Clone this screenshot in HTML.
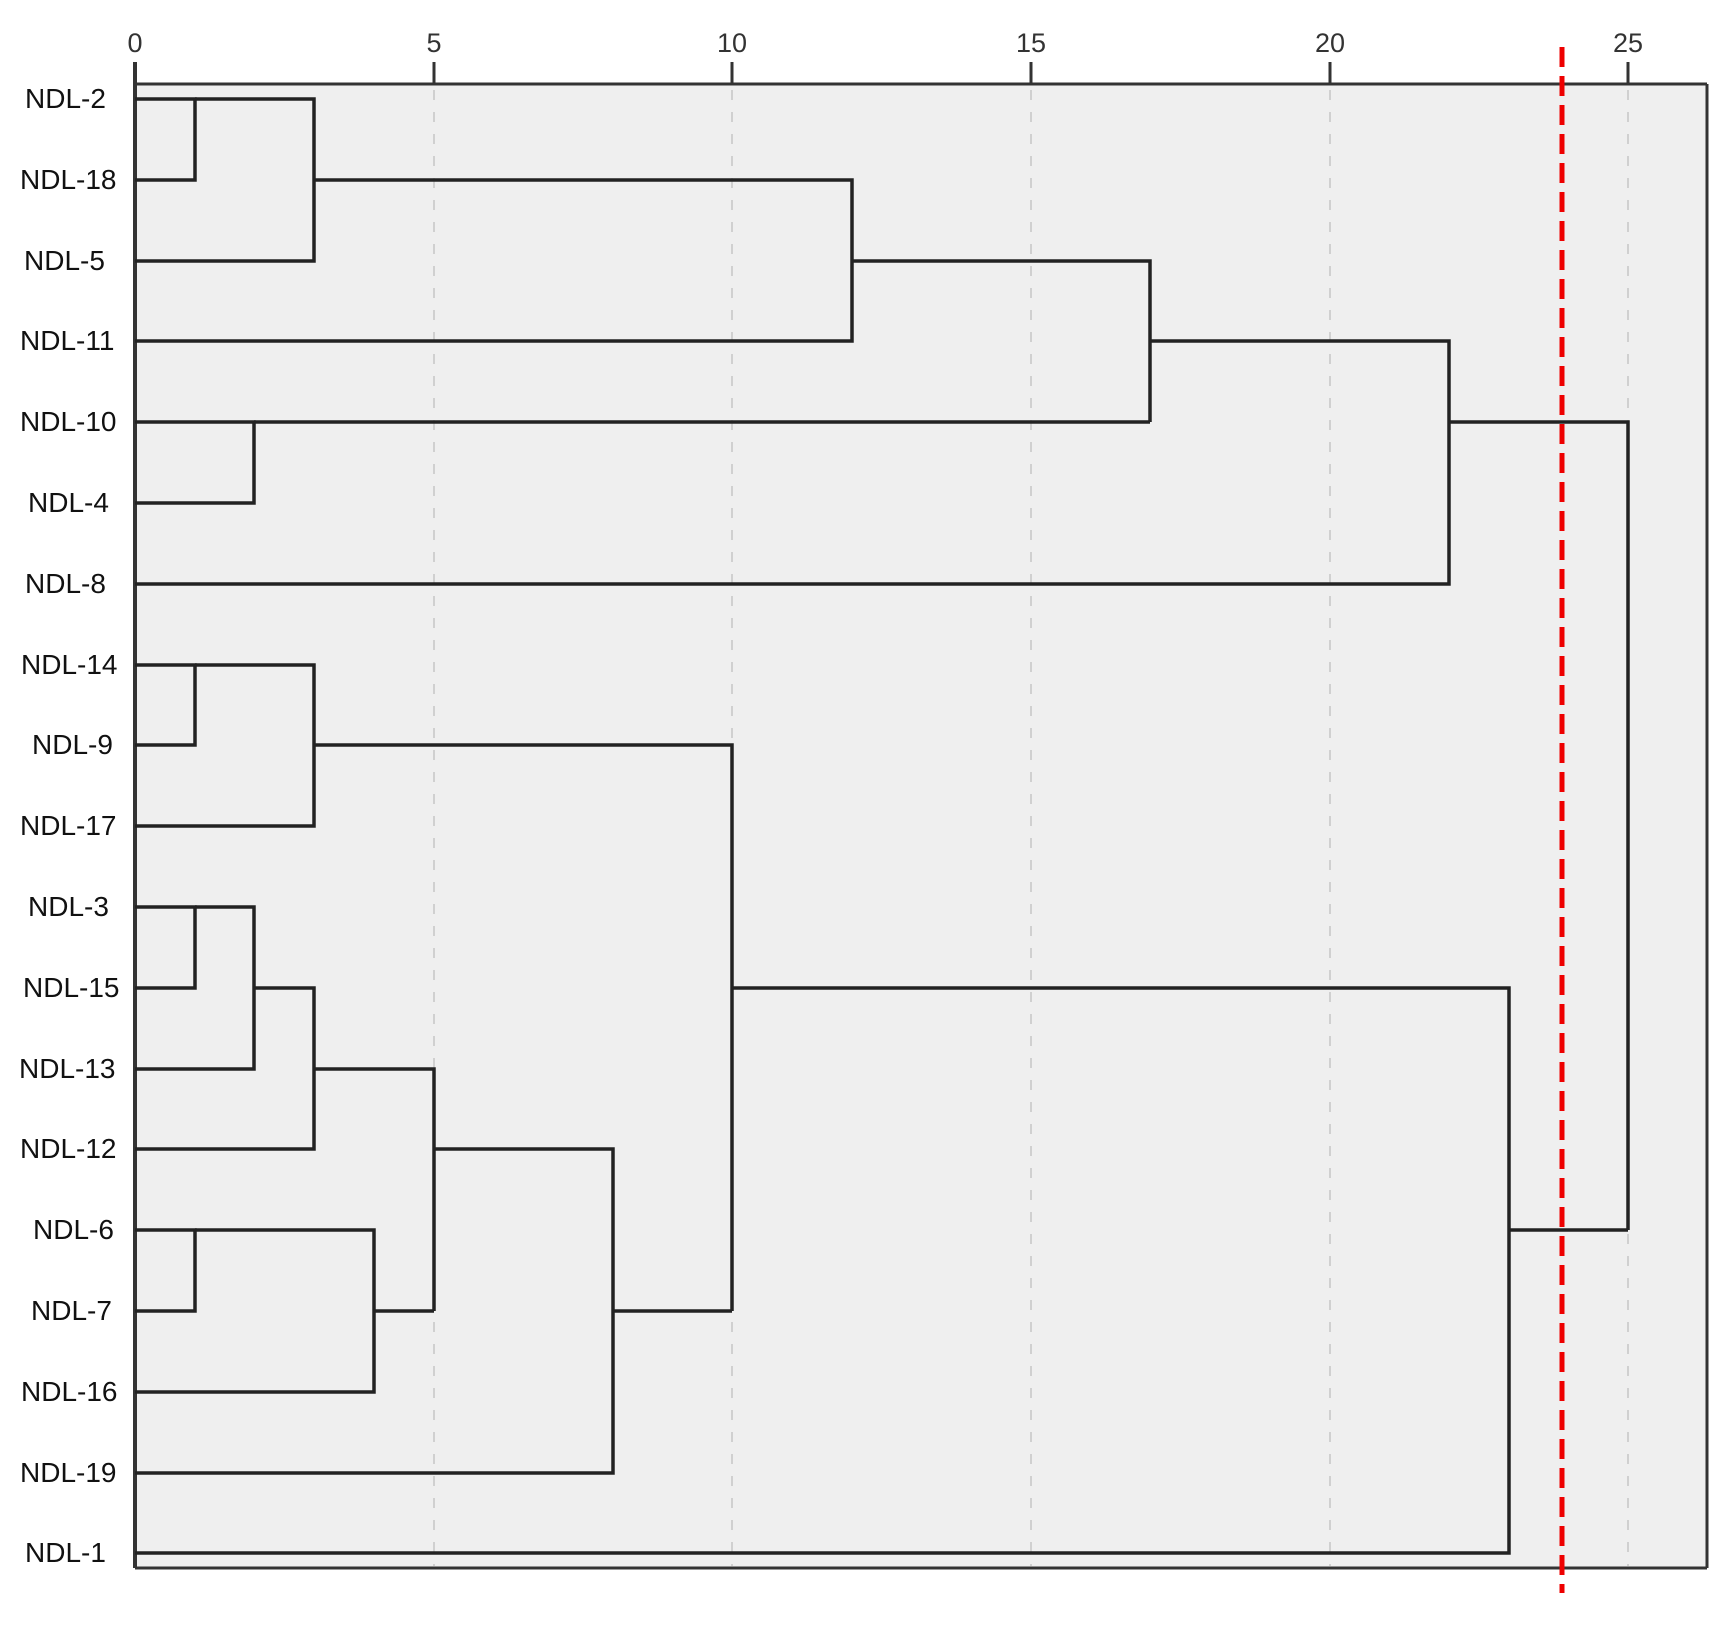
<!DOCTYPE html>
<html><head><meta charset="utf-8"><style>html,body{margin:0;padding:0;background:#fff;width:1732px;height:1628px;overflow:hidden}</style></head>
<body>
<svg width="1732" height="1628" viewBox="0 0 1732 1628" xmlns="http://www.w3.org/2000/svg">
<rect x="135" y="84" width="1572" height="1484" fill="#efefef"/>
<g stroke="#d0d0d0" stroke-width="2" stroke-dasharray="10,12">
<line x1="434" y1="90" x2="434" y2="1566"/>
<line x1="732" y1="90" x2="732" y2="1566"/>
<line x1="1031" y1="90" x2="1031" y2="1566"/>
<line x1="1330" y1="90" x2="1330" y2="1566"/>
<line x1="1628" y1="90" x2="1628" y2="1566"/>
</g>
<g stroke="#333" stroke-width="3">
<line x1="135" y1="84" x2="1707" y2="84"/>
<line x1="1707" y1="84" x2="1707" y2="1568"/>
<line x1="135" y1="1568" x2="1707" y2="1568"/>
<line x1="135" y1="62" x2="135" y2="1568" stroke-width="4"/>
<line x1="434" y1="62" x2="434" y2="84"/>
<line x1="732" y1="62" x2="732" y2="84"/>
<line x1="1031" y1="62" x2="1031" y2="84"/>
<line x1="1330" y1="62" x2="1330" y2="84"/>
<line x1="1628" y1="62" x2="1628" y2="84"/>
</g>
<g font-family="Liberation Sans, sans-serif" font-size="27" fill="#333" text-anchor="middle">
<text x="135" y="52">0</text><text x="434" y="52">5</text><text x="732" y="52">10</text>
<text x="1031" y="52">15</text><text x="1330" y="52">20</text><text x="1628" y="52">25</text>
</g>
<g fill="none" stroke="#222" stroke-width="3.5">
<path d="M135 99H195V180H135"/>
<path d="M195 99H314V261H135"/>
<path d="M314 180H852V341H135"/>
<path d="M852 261H1150V422"/>
<path d="M135 422H254V503H135"/>
<path d="M254 422H1150"/>
<path d="M1150 341H1449V584H135"/>
<path d="M1449 422H1628V1230"/>
<path d="M135 665H195V745H135"/>
<path d="M195 665H314V826H135"/>
<path d="M314 745H732V1311"/>
<path d="M135 907H195V988H135"/>
<path d="M195 907H254V1069H135"/>
<path d="M254 988H314V1149H135"/>
<path d="M314 1069H434V1311"/>
<path d="M135 1230H195V1311H135"/>
<path d="M195 1230H374V1392H135"/>
<path d="M374 1311H434"/>
<path d="M434 1149H613V1473H135"/>
<path d="M613 1311H732"/>
<path d="M732 988H1509V1553H135"/>
<path d="M1509 1230H1628"/>
</g>
<line x1="1562" y1="47" x2="1562" y2="1593" stroke="#e00" stroke-width="5" stroke-dasharray="20,9"/>
<g font-family="Liberation Sans, sans-serif" font-size="28" fill="#111">
<text x="25" y="108">NDL-2</text>
<text x="20" y="189">NDL-18</text>
<text x="24" y="270">NDL-5</text>
<text x="20" y="350">NDL-11</text>
<text x="20" y="431">NDL-10</text>
<text x="28" y="512">NDL-4</text>
<text x="25" y="593">NDL-8</text>
<text x="21" y="674">NDL-14</text>
<text x="32" y="754">NDL-9</text>
<text x="20" y="835">NDL-17</text>
<text x="28" y="916">NDL-3</text>
<text x="23" y="997">NDL-15</text>
<text x="19" y="1078">NDL-13</text>
<text x="20" y="1158">NDL-12</text>
<text x="33" y="1239">NDL-6</text>
<text x="31" y="1320">NDL-7</text>
<text x="21" y="1401">NDL-16</text>
<text x="20" y="1482">NDL-19</text>
<text x="25" y="1562">NDL-1</text>
</g>
</svg>
</body></html>
